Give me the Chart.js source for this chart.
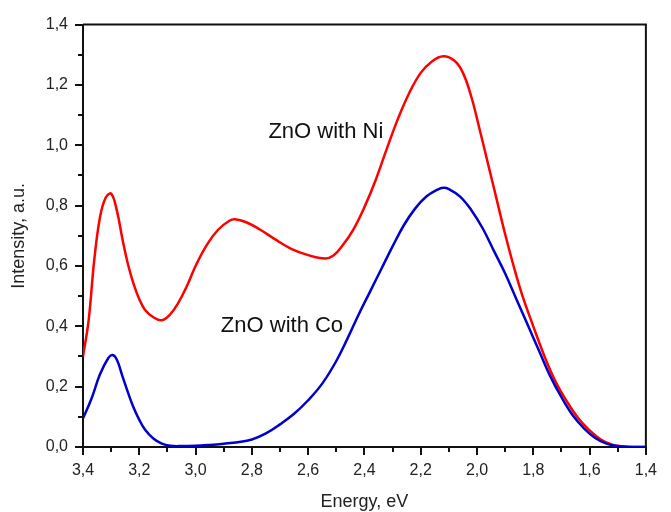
<!DOCTYPE html>
<html lang="en">
<head>
  <meta charset="UTF-8">
  <title>ZnO with Ni / Co</title>
  <script src="https://cdn.jsdelivr.net/npm/chart.js@4"></script>
  <style>
    * { margin: 0; padding: 0; box-sizing: border-box; }
    body { background: #fff; width: 671px; height: 512px; overflow: hidden; }
    canvas { display: block; }
  </style>
</head>
<body>
  <canvas id="chart" width="671" height="512"></canvas>
  <script>
    // Ni-doped sample (red)
    const energyNi = [3.40, 3.38, 3.36, 3.34, 3.32, 3.30, 3.28, 3.26, 3.24, 3.22, 3.20, 3.18, 3.15, 3.12, 3.09, 3.06, 3.03, 3.00, 2.96, 2.92, 2.88, 2.86, 2.82, 2.77, 2.72, 2.66, 2.60, 2.54, 2.51, 2.48, 2.44, 2.40, 2.36, 2.32, 2.28, 2.24, 2.20, 2.16, 2.12, 2.08, 2.05, 2.02, 1.99, 1.96, 1.93, 1.90, 1.87, 1.84, 1.80, 1.76, 1.72, 1.68, 1.64, 1.60, 1.56, 1.52, 1.48, 1.44, 1.40];
    const intensityNi = [0.30, 0.42, 0.62, 0.76, 0.825, 0.84, 0.785, 0.69, 0.605, 0.54, 0.49, 0.455, 0.43, 0.42, 0.44, 0.48, 0.535, 0.60, 0.67, 0.72, 0.75, 0.755, 0.745, 0.72, 0.69, 0.657, 0.636, 0.625, 0.635, 0.665, 0.72, 0.795, 0.885, 0.99, 1.09, 1.175, 1.24, 1.278, 1.295, 1.28, 1.24, 1.16, 1.05, 0.935, 0.82, 0.705, 0.60, 0.505, 0.40, 0.30, 0.215, 0.15, 0.095, 0.055, 0.025, 0.008, 0.002, 0.0, 0.0];

    // Co-doped sample (blue)
    const energyCo = [3.40, 3.37, 3.34, 3.31, 3.295, 3.28, 3.26, 3.24, 3.22, 3.20, 3.18, 3.15, 3.12, 3.09, 3.05, 3.00, 2.95, 2.90, 2.85, 2.80, 2.75, 2.70, 2.65, 2.60, 2.55, 2.50, 2.46, 2.42, 2.38, 2.34, 2.30, 2.26, 2.22, 2.18, 2.14, 2.12, 2.10, 2.06, 2.02, 1.98, 1.94, 1.90, 1.86, 1.82, 1.78, 1.74, 1.70, 1.66, 1.62, 1.58, 1.54, 1.50, 1.46, 1.40];
    const intensityCo = [0.095, 0.16, 0.24, 0.295, 0.305, 0.29, 0.235, 0.18, 0.13, 0.09, 0.058, 0.028, 0.011, 0.004, 0.003, 0.004, 0.007, 0.011, 0.016, 0.025, 0.045, 0.075, 0.11, 0.155, 0.21, 0.285, 0.36, 0.44, 0.515, 0.59, 0.665, 0.735, 0.79, 0.83, 0.853, 0.859, 0.855, 0.83, 0.785, 0.725, 0.65, 0.575, 0.49, 0.405, 0.32, 0.235, 0.165, 0.105, 0.062, 0.03, 0.011, 0.003, 0.0, 0.0];

    // Curve labels: text, energy, intensity
    const curveLabels = [
      { text: 'ZnO with Ni', x: 2.537, y: 1.043 },
      { text: 'ZnO with Co', x: 2.693, y: 0.40 },
    ];

    const FONT = "'Liberation Sans', Arial, sans-serif";
    const fmt = (v) => v.toFixed(1).replace('.', ',');
    const isMajor = (v) => Math.round(v * 10) % 2 === 0;

    // frame, ticks and curve labels
    const decor = {
      id: 'decor',
      afterDraw(chart) {
        const { ctx, chartArea: a, scales: { x, y } } = chart;
        ctx.save();
        ctx.strokeStyle = '#111';
        ctx.lineWidth = 2;
        ctx.beginPath();
        ctx.moveTo(a.left, a.top); ctx.lineTo(a.right, a.top); ctx.lineTo(a.right, a.bottom);
        ctx.stroke();
        ctx.beginPath();
        for (let i = 0; i <= 14; i++) {
          const py = Math.round(y.getPixelForValue(i / 10));
          ctx.moveTo(a.left, py); ctx.lineTo(a.left - (i % 2 === 0 ? 8 : 5), py);
        }
        for (let i = 14; i <= 34; i++) {
          const px = Math.round(x.getPixelForValue(i / 10));
          ctx.moveTo(px, a.bottom); ctx.lineTo(px, a.bottom + (i % 2 === 0 ? 8 : 5));
        }
        ctx.stroke();
        ctx.fillStyle = '#111';
        ctx.font = '22px ' + FONT;
        ctx.textAlign = 'center';
        ctx.textBaseline = 'middle';
        curveLabels.forEach(l => ctx.fillText(l.text, x.getPixelForValue(l.x), y.getPixelForValue(l.y)));
        ctx.restore();
      }
    };

    new Chart(document.getElementById('chart'), {
      type: 'line',
      data: {
        datasets: [
          { label: 'ZnO with Co', data: energyCo.map((e, i) => ({ x: e, y: intensityCo[i] })), borderColor: '#0000cc', borderWidth: 2.5, pointRadius: 0, tension: 0.4, fill: false },
          { label: 'ZnO with Ni', data: energyNi.map((e, i) => ({ x: e, y: intensityNi[i] })), borderColor: '#ff0000', borderWidth: 2.5, pointRadius: 0, tension: 0.4, fill: false },
        ]
      },
      options: {
        responsive: false,
        animation: false,
        layout: { padding: { top: 23, right: 13, left: 0, bottom: 0 } },
        plugins: { legend: { display: false }, tooltip: { enabled: false } },
        scales: {
          x: {
            type: 'linear', min: 1.4, max: 3.4, reverse: true,
            grid: { display: false, drawTicks: false },
            border: { display: true, color: '#111', width: 2 },
            ticks: { stepSize: 0.1, autoSkip: false, maxRotation: 0, padding: 14, color: '#222', font: { family: FONT, size: 16 },
              callback: (v) => isMajor(v) ? fmt(v) : '' },
            title: { display: true, text: 'Energy, eV', color: '#222', font: { family: FONT, size: 18, lineHeight: 1.1 }, padding: { top: 0, bottom: 0 } },
            afterFit: (s) => { s.height = 65; }
          },
          y: {
            min: 0, max: 1.4,
            grid: { display: false, drawTicks: false },
            border: { display: true, color: '#111', width: 2 },
            ticks: { stepSize: 0.1, autoSkip: false, padding: 15, color: '#222', font: { family: FONT, size: 16 },
              callback: (v) => isMajor(v) ? fmt(v) : '' },
            title: { display: true, text: 'Intensity, a.u.', color: '#222', font: { family: FONT, size: 18 }, padding: { top: 8, bottom: 0 } },
            afterFit: (s) => { s.width = 83; }
          }
        }
      },
      plugins: [decor]
    });
  </script>
</body>
</html>
